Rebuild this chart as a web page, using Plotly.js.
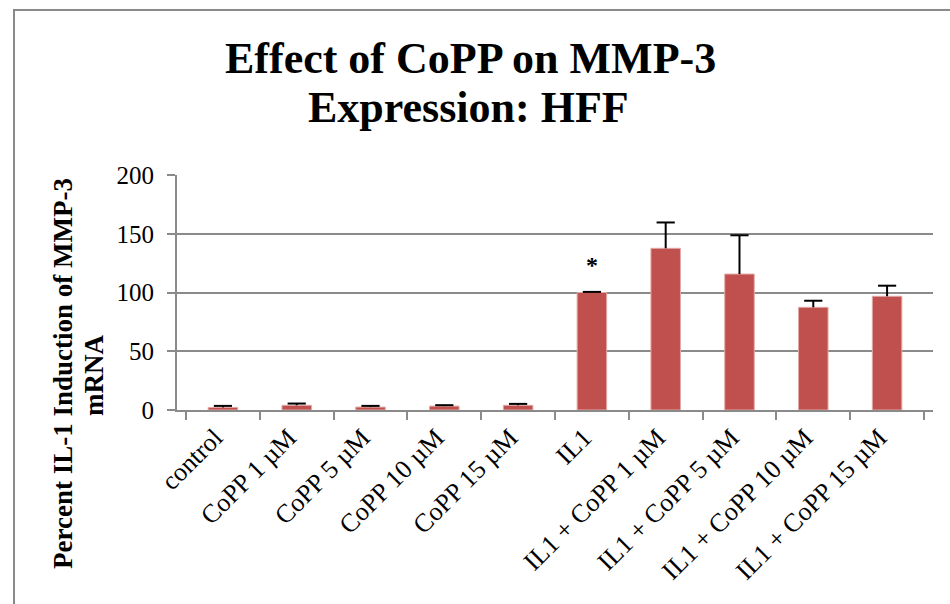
<!DOCTYPE html>
<html><head><meta charset="utf-8">
<script src="https://cdn.plot.ly/plotly-3.0.1.min.js"></script>
<style>html,body{margin:0;padding:0;background:#fff}</style>
</head><body><div id="chart" style="width:950px;height:604px"></div>
<script>
var categories = ['control','CoPP 1 µM','CoPP 5 µM','CoPP 10 µM','CoPP 15 µM','IL1','IL1 + CoPP 1 µM','IL1 + CoPP 5 µM','IL1 + CoPP 10 µM','IL1 + CoPP 15 µM'];
var values = [2.2, 4.0, 2.5, 3.3, 4.0, 100, 137.6, 115.7, 87.4, 96.8];
var errors = [1.3, 1.5, 1.0, 0.8, 1.2, 0.5, 22, 33, 5.6, 9];
var yTicks = [0, 50, 100, 150, 200];

var zeros = errors.map(function(){return 0;});
var capY = values.map(function(v,i){return v + errors[i];});
var gray = '#8a8a8a';
var serif = 'Liberation Serif, Times New Roman, serif';

var bars = {
  type: 'bar', x: categories, y: values,
  marker: {color: '#C0504D', line: {color: '#E2A9A7', width: 1}},
  error_y: {type: 'data', symmetric: false, array: errors, arrayminus: zeros,
            color: '#000', thickness: 2, width: 0},
  hoverinfo: 'x+y'
};
var caps = {
  type: 'scatter', mode: 'markers', x: categories, y: capY,
  marker: {symbol: 'line-ew', size: 13, color: '#000', line: {color: '#000', width: 2}},
  hoverinfo: 'skip'
};

var layout = {
  width: 950, height: 604,
  margin: {l: 177, r: 17, t: 175, b: 194},
  paper_bgcolor: '#fff', plot_bgcolor: '#fff',
  showlegend: false,
  bargap: 0.6,
  font: {family: serif, color: '#000'},
  xaxis: {
    type: 'category', tickson: 'boundaries', ticks: 'outside', ticklen: 8,
    tickcolor: gray, tickwidth: 2, showline: true, linecolor: gray, linewidth: 2,
    tickangle: -45, tickfont: {size: 26, family: serif, color: '#000'}, showgrid: false,
    ticklabelshift: -8, ticklabelstandoff: 0,
    fixedrange: true
  },
  yaxis: {
    range: [0, 200], tickvals: yTicks, ticks: 'outside', ticklen: 8,
    tickcolor: gray, tickwidth: 2, showline: true, linecolor: gray, linewidth: 2,
    showgrid: true, gridcolor: gray, gridwidth: 2, zeroline: false,
    tickfont: {size: 25, family: serif, color: '#000'}, ticklabelstandoff: 8,
    fixedrange: true
  },
  shapes: [{
    type: 'rect', xref: 'paper', yref: 'paper', layer: 'below',
    x0: (14-177)/756, x1: 1.2, y0: -1.2, y1: (410-10)/235,
    line: {color: gray, width: 2}, fillcolor: 'rgba(0,0,0,0)'
  }],
  annotations: [
    {xref: 'paper', yref: 'paper', x: (470-177)/756, y: (410-58)/235,
     text: '<b>Effect of CoPP on MMP-3</b>', showarrow: false,
     xanchor: 'center', yanchor: 'middle', font: {size: 44, family: serif, color: '#000'}},
    {xref: 'paper', yref: 'paper', x: (468-177)/756, y: (410-107)/235,
     text: '<b>Expression: HFF</b>', showarrow: false,
     xanchor: 'center', yanchor: 'middle', font: {size: 44, family: serif, color: '#000'}},
    {xref: 'paper', yref: 'paper', x: (63-177)/756, y: (410-374)/235,
     text: '<b>Percent IL-1 Induction of MMP-3</b>', showarrow: false, textangle: -90,
     xanchor: 'center', yanchor: 'middle', font: {size: 27, family: serif, color: '#000'}},
    {xref: 'paper', yref: 'paper', x: (94-177)/756, y: (410-376)/235,
     text: '<b>mRNA</b>', showarrow: false, textangle: -90,
     xanchor: 'center', yanchor: 'middle', font: {size: 27, family: serif, color: '#000'}},
    {xref: 'x', yref: 'y', x: 'IL1', y: 123.5,
     text: '<b>*</b>', showarrow: false, xanchor: 'center', yanchor: 'middle',
     font: {size: 24, family: serif, color: '#000'}}
  ]
};

Plotly.newPlot('chart', [bars, caps], layout, {displayModeBar: false, staticPlot: true});
</script></body></html>
